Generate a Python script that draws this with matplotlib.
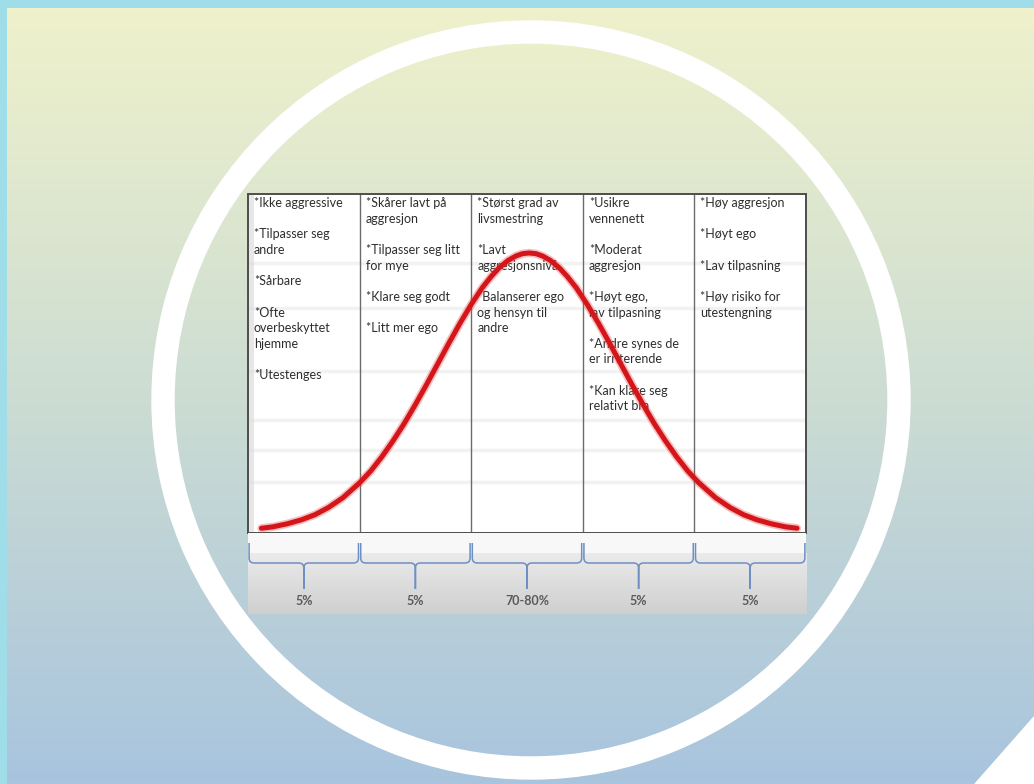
import numpy as np
import matplotlib
matplotlib.use("Agg")
import matplotlib.pyplot as plt
from matplotlib.patches import Annulus, Polygon, PathPatch, Rectangle
from matplotlib.path import Path
from matplotlib.colors import LinearSegmentedColormap

plt.rcParams['font.family'] = ['Lato', 'DejaVu Sans']

W, H = 1034, 784

# text of each column, one entry per text row (empty string = blank row)
col_texts = [
    "*Ikke aggressive\n\n*Tilpasser seg\nandre\n\n*Sårbare\n\n*Ofte\noverbeskyttet\nhjemme\n\n*Utestenges",
    "*Skårer lavt på\naggresjon\n\n*Tilpasser seg litt\nfor mye\n\n*Klare seg godt\n\n*Litt mer ego",
    "*Størst grad av\nlivsmestring\n\n*Lavt\naggresjonsnivå\n\n*Balanserer ego\nog hensyn til\nandre",
    "*Usikre\nvennenett\n\n*Moderat\naggresjon\n\n*Høyt ego,\nlav tilpasning\n\n*Andre synes de\ner irriterende\n\n*Kan klare seg\nrelativt bra",
    "*Høy aggresjon\n\n*Høyt ego\n\n*Lav tilpasning\n\n*Høy risiko for\nutestengning",
]
share_labels = ["5%", "5%", "70-80%", "5%", "5%"]

# bell curve: x in column units (0-5), y as share of table height
curve_x = [0.12, 0.22, 0.35, 0.48, 0.60, 0.72, 0.85, 1.00, 1.10, 1.20, 1.30, 1.40, 1.50,
           1.60, 1.70, 1.80, 1.90, 2.00, 2.10, 2.18, 2.25, 2.33, 2.40, 2.46, 2.52,
           2.58, 2.64, 2.71, 2.79, 2.86, 2.94, 3.04, 3.14, 3.24, 3.34, 3.44, 3.54,
           3.64, 3.74, 3.84, 3.94, 4.04, 4.19, 4.32, 4.44, 4.56, 4.69, 4.82, 4.92]
curve_y = [0.014, 0.018, 0.027, 0.039, 0.054, 0.075, 0.104, 0.148, 0.183, 0.225, 0.272, 0.323, 0.379,
           0.438, 0.499, 0.560, 0.619, 0.674, 0.724, 0.757, 0.782, 0.804, 0.817, 0.824, 0.826,
           0.824, 0.817, 0.804, 0.782, 0.757, 0.724, 0.674, 0.619, 0.560, 0.499, 0.438, 0.379,
           0.323, 0.272, 0.225, 0.183, 0.148, 0.104, 0.075, 0.054, 0.039, 0.027, 0.018, 0.014]

# layout in pixels
TAB_L, TAB_R, TAB_T, TAB_B = 248, 806, 194, 533
STRIP_B = 614
COL_W = (TAB_R - TAB_L) / 5
ROW0, PITCH = 9, 15.65

fig = plt.figure(figsize=(W / 100, H / 100), dpi=100, facecolor='#9fdde8')

# background panel
ax_bg = fig.add_axes([0, 0, 1, 1])
bg_cmap = LinearSegmentedColormap.from_list(
    'bg', [(0, '#eff1cb'), (0.45, '#d0dfd2'), (1, '#a8c4de')])
grad = np.linspace(0, 1, 256)[:, None]
ax_bg.imshow(grad, cmap=bg_cmap, extent=(7, W, H, 8), aspect='auto')
ax_bg.add_patch(Annulus((531, 400), 379, 22, color='white'))
ax_bg.add_patch(Polygon([(W, 717), (975, H), (W, H)], closed=True, color='white'))
ax_bg.set_xlim(0, W)
ax_bg.set_ylim(H, 0)
ax_bg.axis('off')

# table
ax_t = fig.add_axes([TAB_L / W, 1 - TAB_B / H, (TAB_R - TAB_L) / W, (TAB_B - TAB_T) / H])
ax_t.set_facecolor('white')
ax_t.set_xlim(0, 5)
ax_t.set_ylim(0, 1)
ax_t.set_xticks([])
ax_t.set_yticks([])
for s in ax_t.spines.values():
    s.set_color('#4d4d4d')
    s.set_linewidth(1.4)
tab_h = TAB_B - TAB_T
for yy in [263, 308, 371, 420, 450, 482]:
    ax_t.axhline(1 - (yy - TAB_T) / tab_h, color='#f2f2f2', lw=2.5, zorder=0)
ax_t.add_patch(Rectangle((0, 0), 6 / COL_W, 1, color='#d8d8d8', alpha=0.6, lw=0, zorder=0))
for i in range(1, 5):
    ax_t.axvline(i, color='#6b6b6b', lw=1.0)

pad = 6 / COL_W
for i, txt in enumerate(col_texts):
    for n, line in enumerate(txt.split("\n")):
        if line:
            ax_t.text(i + pad, 1 - (ROW0 + n * PITCH) / tab_h, line, ha='left', va='center',
                      fontsize=9, color='#2e2e2e', zorder=3)

ax_t.plot(curve_x, curve_y, color='#e84a4a', lw=6, alpha=0.35, solid_capstyle='round', zorder=4)
ax_t.plot(curve_x, curve_y, color='#d4161b', lw=3.6, solid_capstyle='round',
          solid_joinstyle='round', zorder=5)

# strip with braces and shares
ax_b = fig.add_axes([TAB_L / W, 1 - STRIP_B / H, (TAB_R - TAB_L) / W, (STRIP_B - TAB_B) / H])
ax_b.add_patch(Rectangle((0, 0), 5, 20, color='#f8f8f8', lw=0))
gray_cmap = LinearSegmentedColormap.from_list('g', ['#ebebeb', '#cfcfcf'])
ax_b.imshow(grad, cmap=gray_cmap, extent=(0, 5, STRIP_B - TAB_B, 20), aspect='auto')
ax_b.set_xlim(0, 5)
ax_b.set_ylim(STRIP_B - TAB_B, 0)
ax_b.axis('off')

top, mid, tip = 10, 30, 56
rx, ry = 5 / COL_W, 5
for i, lab in enumerate(share_labels):
    L, R, C = i + 0.01, i + 0.99, i + 0.5
    verts, codes = [], []
    for end, sgn in [(L, 1), (R, -1)]:
        verts += [(end, top), (end, mid - ry), (end, mid), (end + sgn * rx, mid),
                  (C - sgn * rx, mid), (C, mid), (C, mid + ry), (C, tip)]
        codes += [Path.MOVETO, Path.LINETO, Path.CURVE3, Path.CURVE3,
                  Path.LINETO, Path.CURVE3, Path.CURVE3, Path.LINETO]
    ax_b.add_patch(PathPatch(Path(verts, codes), fill=False, edgecolor='#6d8fc4', lw=1.1))
    ax_b.text(C, 68, lab, ha='center', va='center', fontsize=9, fontweight='bold',
              color='#5a5a5a')

fig.savefig('out.png', dpi=100, facecolor=fig.get_facecolor())
